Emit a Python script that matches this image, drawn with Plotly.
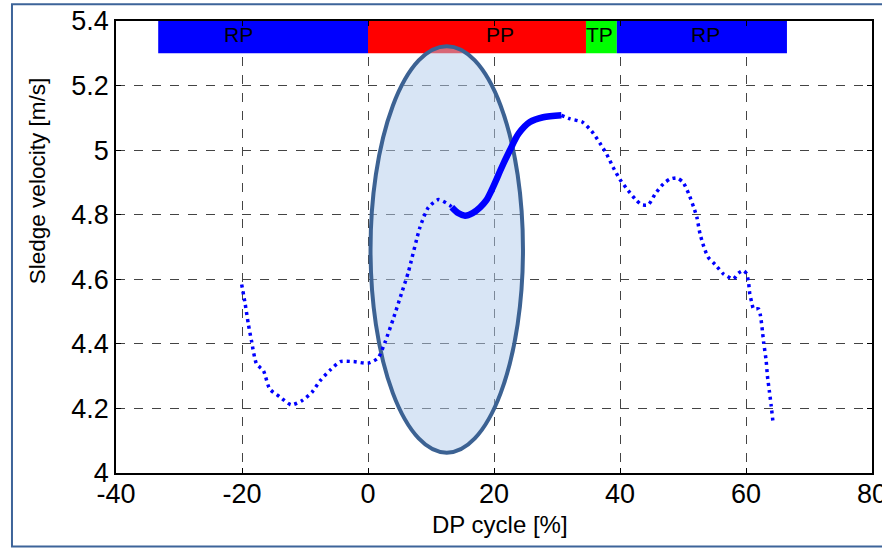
import plotly.graph_objects as go

# ---- data ----
pre_x = [-20.05, -19.5, -19.0, -18.5, -17.7, -16.6, -15.6, -14.0, -12.2, -10.5, -8.9, -7.6, -6.0,
         -4.4, -2.3, 0.0, 1.6, 2.7, 4.0, 5.3, 6.4, 8.25, 9.6, 11.2, 13.0, 13.3]
pre_y = [4.584, 4.524, 4.462, 4.41, 4.338, 4.317, 4.26, 4.236, 4.211, 4.224, 4.25, 4.286, 4.319,
         4.345, 4.345, 4.34, 4.356, 4.405, 4.477, 4.555, 4.622, 4.761, 4.823, 4.847, 4.829, 4.823]

pp_x = [13.3, 14.3, 15.4, 16.6, 17.8, 18.8, 19.6, 20.3, 21.0, 22.5, 23.9, 25.7, 27.8, 30.7]
pp_y = [4.823, 4.805, 4.797, 4.805, 4.823, 4.845, 4.875, 4.905, 4.937, 4.999, 5.051, 5.087, 5.102, 5.108]

post_x = [30.7, 32.1, 34.0, 35.5, 36.8, 37.9, 38.9, 40.0, 41.3, 42.4, 43.4, 44.5, 45.6, 46.9,
          47.9, 49.0, 50.0, 50.9, 51.7, 52.2, 52.7, 53.3, 54.0, 55.1, 56.4, 58.0, 58.8, 59.6,
          60.1, 60.4, 60.6, 60.9, 61.2, 62.0, 62.3, 62.6, 62.8, 63.2, 63.4, 63.7, 64.0, 64.3]
post_y = [5.108, 5.097, 5.087, 5.059, 5.022, 4.987, 4.947, 4.909, 4.875, 4.849, 4.831, 4.831,
          4.865, 4.896, 4.910, 4.914, 4.901, 4.865, 4.823, 4.792, 4.741, 4.701, 4.668, 4.646,
          4.617, 4.601, 4.619, 4.627, 4.617, 4.591, 4.555, 4.529, 4.508, 4.508, 4.487, 4.441,
          4.405, 4.348, 4.301, 4.255, 4.208, 4.155]

phase_names = ["RP", "PP", "TP", "RP"]
phase_start = [-33.3, 0.0, 34.6, 39.5]
phase_end = [0.0, 34.6, 39.5, 66.5]
phase_colors = ["#0000ff", "#ff0000", "#00ff00", "#0000ff"]
phase_label_x = [-20.5, 21.0, 36.7, 53.5]
bar_y0, bar_y1 = 5.3, 5.4

ellipse_x = [0.4, 24.6]
ellipse_y = [4.063, 5.322]

x_ticks = [-40, -20, 0, 20, 40, 60, 80]
y_ticks = [4, 4.2, 4.4, 4.6, 4.8, 5, 5.2, 5.4]
y_ticktext = ["4", "4.2", "4.4", "4.6", "4.8", "5", "5.2", "5.4"]
x_title = "DP cycle [%]"
y_title = "Sledge velocity [m/s]"

FONT = "Liberation Sans, Arial"

fig = go.Figure()

dot_line = dict(color="#0000ff", width=3.5, dash="3px,4px", shape="spline", smoothing=0.6)
fig.add_trace(go.Scatter(x=pre_x, y=pre_y, mode="lines", line=dot_line, showlegend=False))
fig.add_trace(go.Scatter(x=post_x, y=post_y, mode="lines", line=dot_line, showlegend=False))
fig.add_trace(go.Scatter(x=pp_x, y=pp_y, mode="lines",
                         line=dict(color="#0000ff", width=6.5, shape="spline", smoothing=0.8),
                         showlegend=False))

shapes = []
for s, e, c in zip(phase_start, phase_end, phase_colors):
    shapes.append(dict(type="rect", xref="x", yref="y", x0=s, x1=e, y0=bar_y0, y1=bar_y1,
                       fillcolor=c, line=dict(width=0), layer="between"))
shapes.append(dict(type="circle", xref="x", yref="y", x0=ellipse_x[0], x1=ellipse_x[1],
                   y0=ellipse_y[0], y1=ellipse_y[1], fillcolor="rgba(178,204,236,0.5)",
                   line=dict(color="#3c6293", width=4), layer="between"))
# figure frame
shapes.append(dict(type="rect", xref="paper", yref="paper", x0=-0.1376, x1=1.02,
                   y0=-0.1625, y1=1.037, line=dict(color="#3d6499", width=2),
                   fillcolor="rgba(0,0,0,0)", layer="above"))

annotations = []
for name, lx in zip(phase_names, phase_label_x):
    annotations.append(dict(x=lx, y=5.357, xref="x", yref="y", text=name, showarrow=False,
                            font=dict(family=FONT, size=21, color="black")))
annotations.append(dict(x=0.508, y=-0.114, xref="paper", yref="paper", text=x_title,
                        showarrow=False, xanchor="center", yanchor="middle",
                        font=dict(family=FONT, size=24, color="black")))
annotations.append(dict(x=-0.1045, y=0.6456, xref="paper", yref="paper", text=y_title,
                        showarrow=False, xanchor="center", yanchor="middle", textangle=-90,
                        font=dict(family=FONT, size=22.5, color="black")))

fig.update_layout(
    width=882, height=549,
    margin=dict(l=116, r=10, t=21, b=76),
    paper_bgcolor="white", plot_bgcolor="white",
    shapes=shapes, annotations=annotations,
    font=dict(family=FONT, size=20, color="black"),
)
fig.update_xaxes(range=[-40, 80], tickvals=x_ticks, ticktext=[str(v) for v in x_ticks],
                 tickfont=dict(family=FONT, size=27, color="black"), automargin=False,
                 ticklabeloverflow="allow", ticklabelstandoff=-4,
                 showgrid=True, gridcolor="#444444", griddash="dash", gridwidth=1,
                 showline=True, linecolor="black", linewidth=1.5, mirror="ticks",
                 ticks="inside", ticklen=5, tickcolor="black", zeroline=False)
fig.update_yaxes(range=[4, 5.4], tickvals=y_ticks, ticktext=y_ticktext,
                 tickfont=dict(family=FONT, size=27, color="black"), automargin=False,
                 ticklabeloverflow="allow",
                 showgrid=True, gridcolor="#444444", griddash="dash", gridwidth=1,
                 showline=True, linecolor="black", linewidth=1.5, mirror="ticks",
                 ticks="inside", ticklen=5, tickcolor="black", zeroline=False)

fig.write_html("out.html")
